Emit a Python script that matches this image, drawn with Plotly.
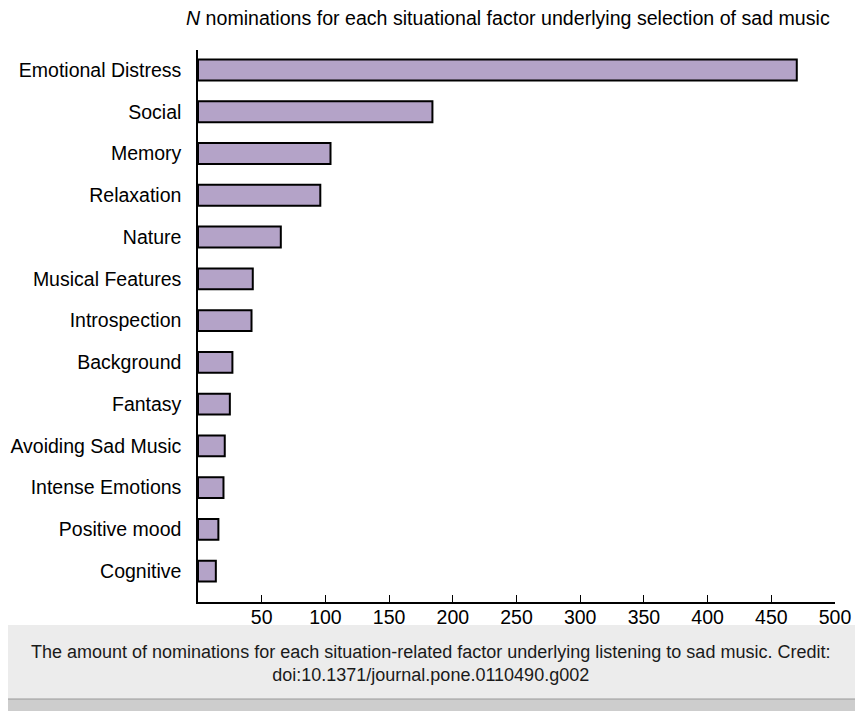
import plotly.graph_objects as go

categories = ["Emotional Distress", "Social", "Memory", "Relaxation", "Nature",
              "Musical Features", "Introspection", "Background", "Fantasy",
              "Avoiding Sad Music", "Intense Emotions", "Positive mood", "Cognitive"]
values = [470, 184, 104, 96, 65, 43, 42, 27, 25, 21, 20, 16, 14]
x_ticks = [50, 100, 150, 200, 250, 300, 350, 400, 450, 500]

W, H = 863, 711
OFF = 8  # page body margin in the browser
L, R, T, B = 198 - OFF, 835.5 - OFF, 50 - OFF, 602 - OFF  # plot area in figure pixels
pw, ph = R - L, B - T

def px(x):
    return (x - OFF - L) / pw

def py(y):
    return (B - (y - OFF)) / ph

FONT = "Liberation Sans, Arial, Helvetica, sans-serif"

fig = go.Figure(go.Bar(
    x=values[::-1], y=categories[::-1], orientation="h", width=0.5,
    marker=dict(color="#b4a3c8", line=dict(color="#000000", width=2)),
))

shapes = [
    dict(type="rect", xref="paper", yref="paper", x0=px(0), x1=px(857), y0=py(625), y1=py(0),
         fillcolor="#ffffff", line=dict(width=0), layer="below"),
    dict(type="rect", xref="paper", yref="paper", x0=px(0), x1=px(863), y0=py(711), y1=py(699),
         fillcolor="#cdcdcd", line=dict(width=0), layer="below"),
    dict(type="line", xref="paper", yref="paper", x0=px(0), x1=px(863), y0=py(699), y1=py(699),
         line=dict(color="#9a9a9a", width=1), layer="below"),
]

fig.update_layout(
    width=W, height=H,
    margin=dict(l=L, r=W - R, t=T, b=H - B, pad=0, autoexpand=False),
    paper_bgcolor="#ececec", plot_bgcolor="rgba(0,0,0,0)",
    showlegend=False, bargap=0.5,
    font=dict(family=FONT, color="#000000", size=19.5),
    shapes=shapes,
    annotations=[
        dict(text="<i>N</i> nominations for each situational factor underlying selection of sad music",
             xref="paper", yref="paper", x=px(832), y=py(18), xanchor="right", yanchor="middle",
             showarrow=False, font=dict(size=19.6, family=FONT, color="#000000")),
        dict(text="The amount of nominations for each situation-related factor underlying listening to sad music. Credit:<br>doi:10.1371/journal.pone.0110490.g002",
             xref="paper", yref="paper", x=px(431), y=py(663), xanchor="center", yanchor="middle",
             showarrow=False, align="center",
             font=dict(size=18, family=FONT, color="#1a1a1a")),
    ],
    xaxis=dict(range=[0, 500], tickvals=x_ticks, ticktext=[str(v) for v in x_ticks],
               ticks="inside", ticklen=7, tickwidth=1.3, tickcolor="#000000",
               showline=True, linecolor="#000000", linewidth=1.5, showgrid=False,
               zeroline=False, tickfont=dict(size=19.5), ticklabelstandoff=-3,
               automargin=False, fixedrange=True),
    yaxis=dict(type="category", categoryorder="array", categoryarray=categories[::-1],
               range=[-0.74, 12.48], showline=True, linecolor="#000000", linewidth=1.5,
               ticks="", showgrid=False, zeroline=False, tickfont=dict(size=19.5),
               ticklabelstandoff=11, automargin=False, fixedrange=True),
)

fig.write_html("out.html")
